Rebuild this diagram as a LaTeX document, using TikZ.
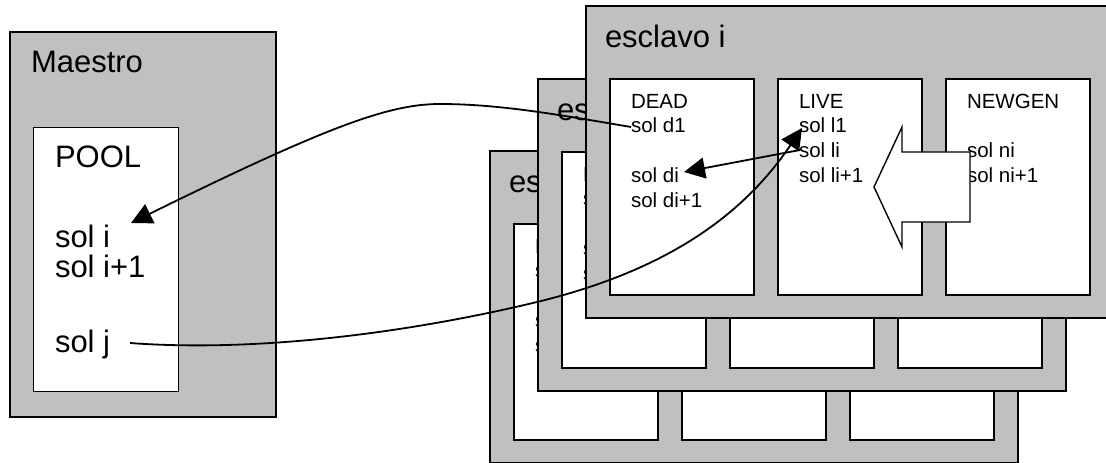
\documentclass[tikz,border=0pt]{standalone}
\usepackage{fontspec}
\setmainfont{Liberation Sans}
\usetikzlibrary{arrows.meta}
\definecolor{boxgray}{RGB}{192,192,192}
\newcommand{\fbig}{\fontsize{31}{36}\selectfont}
\newcommand{\fsmall}{\fontsize{20.5}{24.75}\selectfont}
\tikzset{
  outerbox/.style={draw=black, line width=1.8pt, fill=boxgray, inner sep=0pt, outer sep=0pt,
    anchor=north west, minimum width=528pt, minimum height=312pt},
  innerbox/.style={draw=black, line width=1.4pt, fill=white, inner sep=0pt, outer sep=0pt,
    anchor=north west, minimum width=144pt, minimum height=216pt},
  bigtxt/.style={font=\fbig, anchor=base west, inner sep=0pt, outer sep=0pt},
  smalltxt/.style={font=\fsmall, anchor=base west, inner sep=0pt, outer sep=0pt},
  conn/.style={draw=black, line width=1.8pt, -{Triangle[length=21pt,width=21pt]}},
  plainconn/.style={draw=black, line width=1.8pt},
  blockarrow/.style={draw=black, line width=1.4pt, fill=white, line join=miter},
}
\newcommand{\slavebox}[3]{%
  \node[outerbox] (#1) at (#2,#3) {};
  \node[innerbox] (#1d) at ([shift={(24,73)}]#1.north west) {};
  \node[innerbox] (#1l) at ([shift={(192,73)}]#1.north west) {};
  \node[innerbox] (#1n) at ([shift={(360,73)}]#1.north west) {};
  \node[bigtxt] (#1t) at ([shift={(19,41)}]#1.north west) {esclavo i};
  \node[smalltxt] (#1c) at ([shift={(45,102)}]#1.north west)
    {\vtop{\hbox{DEAD}\hbox{sol d1}\hbox{}\hbox{sol di}\hbox{sol di+1}}};
}
\begin{document}
\begin{tikzpicture}[x=1pt,y=-1pt]
\useasboundingbox (0,0) rectangle (1106,463);
\clip (0,0) rectangle (1106,463);

% Maestro
\node[draw=black, line width=1.8pt, fill=boxgray, inner sep=0pt, anchor=north west,
  minimum width=266pt, minimum height=385pt] (maestro) at (9,31) {};
\node[draw=black, line width=1.4pt, fill=white, inner sep=0pt, anchor=north west,
  minimum width=145pt, minimum height=264pt] (pool) at (33,127) {};
\node[bigtxt] (maestrot) at (31,72) {Maestro};
\node[bigtxt] (poolt) at (55,167) {POOL};
\node[bigtxt] (soli) at (55,247) {sol i};
\node[bigtxt] (solii) at (55,277) {sol i+1};
\node[bigtxt] (solj) at (55,352) {sol j};

% back slaves
\slavebox{sb}{490}{151}
\slavebox{sm}{538}{79}

% front slave
\node[outerbox] (sf) at (586,6) {};
\node[innerbox] (dead) at (610,79) {};
\node[innerbox] (live) at (778,79) {};
\node[innerbox] (newgen) at (946,79) {};
\node[bigtxt] (sft) at (605,47) {esclavo i};

\node[smalltxt] (deadt) at (631,108) {DEAD};
\node[smalltxt] (sold1) at (631,132.75) {sol d1};
\node[smalltxt] (soldi) at (631,182.25) {sol di};
\node[smalltxt] (soldii) at (631,207) {sol di+1};

\node[smalltxt] (livet) at (799,108) {LIVE};
\node[smalltxt] (soll1) at (799,132.75) {sol l1};
\node[smalltxt] (solli) at (799,157.5) {sol li};
\node[smalltxt] (sollii) at (799,182.25) {sol li+1};

\node[smalltxt] (newgent) at (967,108) {NEWGEN};
\node[smalltxt] (solni) at (967,157.5) {sol ni};
\node[smalltxt] (solnii) at (967,182.25) {sol ni+1};

% block arrow NEWGEN -> LIVE
\draw[blockarrow] (874,187) -- (902,127) -- (902,152) -- (970,152) -- (970,222)
  -- (902,222) -- (902,247) -- cycle;

% connector end points
\coordinate (poolTip) at (131,223);
\coordinate (jStart) at (130,343);
\coordinate (l1Tip) at (802,128);
\coordinate (diTip) at (684,172);
\coordinate (d1Start) at (631,127);
\coordinate (liStart) at (800,150);

% connectors
\draw[conn] (d1Start) .. controls (560,115) and (500,104) .. (440,104)
  .. controls (390,104) and (330,125) .. (poolTip);
\draw[conn] (jStart) .. controls (250,352) and (400,335) .. (537,302)
  .. controls (660,272) and (740,220) .. (l1Tip);
\draw[conn] (liStart) -- (diTip);
\end{tikzpicture}
\end{document}
